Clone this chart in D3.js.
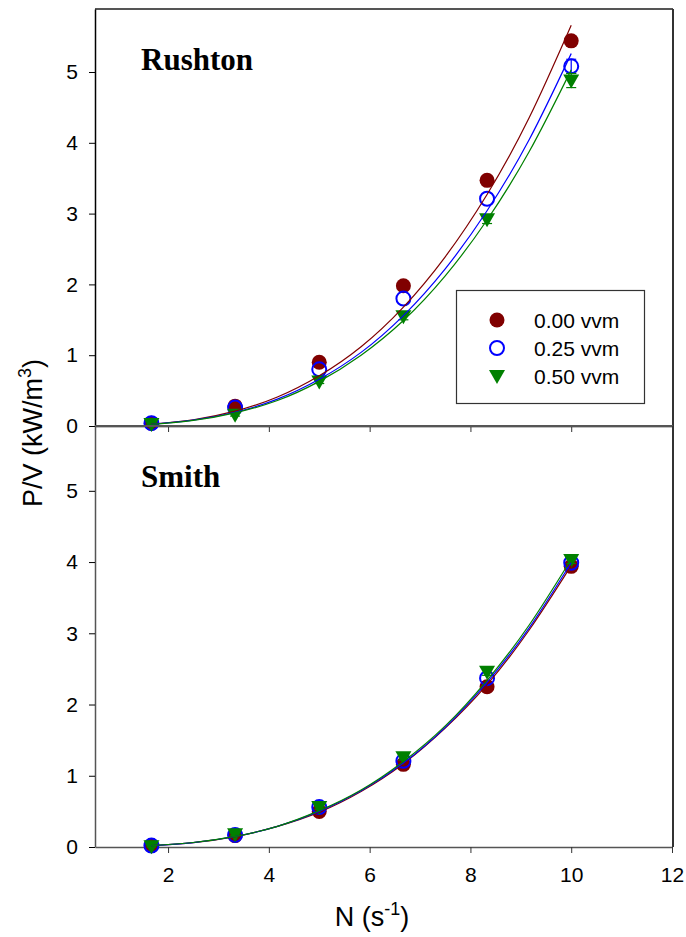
<!DOCTYPE html>
<html>
<head>
<meta charset="utf-8">
<script src="https://cdn.jsdelivr.net/npm/d3@7"></script>
<style>
  body { margin: 0; background: #fff; }
  svg { display: block; font-family: "Liberation Sans", Arial, sans-serif; }
  .tick text { font-size: 21px; fill: #000; }
</style>
</head>
<body>
<svg id="chart" width="686" height="937"></svg>
<script>
// impeller speed N (s-1)
const speeds = [1.67, 3.33, 5.0, 6.67, 8.33, 10.0];
const series = ["0.00 vvm", "0.25 vvm", "0.50 vvm"];
const colors = ["#800000", "#0000ff", "#008000"];

// Rushton turbine, P/V (kW/m3)
const rushton000 = [0.04, 0.28, 0.90, 1.98, 3.47, 5.44];
const rushton025 = [0.04, 0.26, 0.80, 1.80, 3.21, 5.08];
const rushton050 = [0.03, 0.16, 0.63, 1.55, 2.92, 4.88];
const rushtonErr000 = [0.01, 0.02, 0.03, 0.04, 0.05, 0.06];
const rushtonErr025 = [0, 0, 0, 0, 0, 0.10];
const rushtonErr050 = [0.01, 0.02, 0.03, 0.05, 0.06, 0.10];

// Smith turbine, P/V (kW/m3)
const smith000 = [0.02, 0.16, 0.50, 1.16, 2.25, 3.94];
const smith025 = [0.02, 0.17, 0.56, 1.21, 2.37, 3.99];
const smith050 = [0.01, 0.18, 0.56, 1.26, 2.46, 4.03];
const smithErr000 = [0.01, 0.02, 0.03, 0.05, 0.07, 0.06];
const smithErr025 = [0, 0, 0, 0, 0, 0];
const smithErr050 = [0.01, 0.02, 0.03, 0.04, 0.05, 0.05];

// fitted curves
const fitSpeeds = [1.67, 2.5, 3.33, 4.17, 5.0, 5.83, 6.67, 7.5, 8.33, 9.17, 10.0];
const rushtonFit000 = [0.026, 0.088, 0.209, 0.41, 0.71, 1.12, 1.68, 2.39, 3.27, 4.36, 5.66];
const rushtonFit025 = [0.024, 0.082, 0.194, 0.38, 0.66, 1.04, 1.56, 2.22, 3.04, 4.05, 5.26];
const rushtonFit050 = [0.023, 0.079, 0.186, 0.36, 0.63, 1.00, 1.49, 2.12, 2.91, 3.88, 5.03];
const smithFit000 = [0.018, 0.062, 0.146, 0.29, 0.49, 0.78, 1.17, 1.67, 2.28, 3.05, 3.95];
const smithFit025 = [0.019, 0.062, 0.147, 0.29, 0.50, 0.79, 1.18, 1.68, 2.31, 3.08, 3.99];
const smithFit050 = [0.019, 0.063, 0.149, 0.29, 0.51, 0.80, 1.20, 1.70, 2.34, 3.12, 4.04];

const xTicks = [2, 4, 6, 8, 10, 12];
const yTicks = [0, 1, 2, 3, 4, 5];

const panels = [
  { title: "Rushton", top: 9, bottom: 426, ymax: 5.89,
    values: [rushton000, rushton025, rushton050],
    errors: [rushtonErr000, rushtonErr025, rushtonErr050],
    fits: [rushtonFit000, rushtonFit025, rushtonFit050] },
  { title: "Smith", top: 426, bottom: 847, ymax: 5.91,
    values: [smith000, smith025, smith050],
    errors: [smithErr000, smithErr025, smithErr050],
    fits: [smithFit000, smithFit025, smithFit050] }
];

const svg = d3.select("#chart");
const left = 95, right = 672;
const x = d3.scaleLinear().domain([0.55, 12]).range([left, right]);

function drawMarker(g, i, cx, cy) {
  if (i === 0) {
    g.append("circle").attr("cx", cx).attr("cy", cy).attr("r", 7.5)
      .attr("fill", colors[0]);
  } else if (i === 1) {
    g.append("circle").attr("cx", cx).attr("cy", cy).attr("r", 7)
      .attr("fill", "none").attr("stroke", colors[1]).attr("stroke-width", 2);
  } else {
    g.append("path")
      .attr("d", `M${cx - 8},${cy - 6}L${cx + 8},${cy - 6}L${cx},${cy + 8}Z`)
      .attr("fill", colors[2]);
  }
}

panels.forEach((p, pi) => {
  const y = d3.scaleLinear().domain([0, p.ymax]).range([p.bottom, p.top]);
  const g = svg.append("g");
  const axisColor = pi === 0 ? "#000" : "#555";

  // frame (top and right)
  g.append("line").attr("x1", left).attr("x2", right + 1).attr("y1", p.top).attr("y2", p.top)
    .attr("stroke", "#555").attr("stroke-width", 2);
  g.append("line").attr("x1", right + 1).attr("x2", right + 1).attr("y1", p.top).attr("y2", p.bottom)
    .attr("stroke", "#333").attr("stroke-width", 2);

  // y axis
  const yAxis = g.append("g")
    .attr("transform", `translate(${left},0)`)
    .call(d3.axisLeft(y).tickValues(yTicks).tickFormat(d3.format("d")).tickSize(6).tickSizeOuter(0).tickPadding(11));
  yAxis.select(".domain").attr("stroke", axisColor).attr("stroke-width", 1.5);
  yAxis.selectAll(".tick line").attr("stroke", "#000");

  // x axis
  const xAxis = g.append("g")
    .attr("transform", `translate(0,${p.bottom})`)
    .call(d3.axisBottom(x).tickValues(xTicks).tickSize(6).tickSizeOuter(0).tickPadding(14));
  xAxis.select(".domain").attr("stroke", axisColor).attr("stroke-width", 1.5);
  xAxis.selectAll(".tick line").attr("stroke", "#333");
  if (pi === 0) xAxis.selectAll(".tick text").remove();

  // panel title
  g.append("text")
    .attr("x", 141).attr("y", p.top + 61)
    .style("font-family", "'Liberation Serif', 'Times New Roman', serif")
    .style("font-weight", "bold").style("font-size", "31px")
    .text(p.title);

  // error bars and markers
  p.values.forEach((vals, si) => {
    const eg = g.append("g").attr("stroke", colors[si]).attr("stroke-width", 1.2);
    vals.forEach((v, k) => {
      const e = p.errors[si][k];
      if (!e) return;
      const cx = x(speeds[k]);
      eg.append("line").attr("x1", cx).attr("x2", cx).attr("y1", y(v - e)).attr("y2", y(v + e));
      [v - e, v + e].forEach(b => {
        eg.append("line").attr("x1", cx - 5).attr("x2", cx + 5).attr("y1", y(b)).attr("y2", y(b));
      });
    });
    const mg = g.append("g");
    vals.forEach((v, k) => drawMarker(mg, si, x(speeds[k]), y(v)));
  });

  // fitted curves
  const line = d3.line().x(d => x(d[0])).y(d => y(d[1])).curve(d3.curveNatural);
  p.fits.forEach((f, si) => {
    g.append("path")
      .datum(fitSpeeds.map((s, k) => [s, f[k]]))
      .attr("d", line)
      .attr("fill", "none")
      .attr("stroke", colors[si])
      .attr("stroke-width", 1.2);
  });
});

// legend
const legend = svg.append("g");
legend.append("rect").attr("x", 456.5).attr("y", 290.5).attr("width", 188).attr("height", 113)
  .attr("fill", "#fff").attr("stroke", "#333").attr("stroke-width", 1.2);
series.forEach((s, i) => {
  const ry = 320 + i * 28;
  drawMarker(legend, i, 497, ry);
  legend.append("text").attr("x", 534).attr("y", ry + 7.5)
    .style("font-size", "21px").text(s);
});

// axis titles
const xl = svg.append("text").attr("x", 372).attr("y", 926)
  .attr("text-anchor", "middle").style("font-size", "27px");
xl.append("tspan").text("N (s");
xl.append("tspan").attr("dy", -11).style("font-size", "18px").text("-1");
xl.append("tspan").attr("dy", 11).text(")");

const yl = svg.append("text")
  .attr("transform", "translate(42,433) rotate(-90)")
  .attr("text-anchor", "middle").style("font-size", "27px");
yl.append("tspan").text("P/V (kW/m");
yl.append("tspan").attr("dy", -11).style("font-size", "18px").text("3");
yl.append("tspan").attr("dy", 11).text(")");
</script>
</body>
</html>
